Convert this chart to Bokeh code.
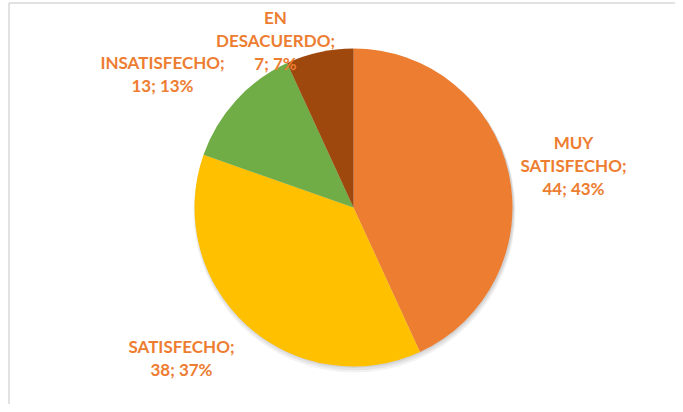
import math
from bokeh.plotting import figure
from bokeh.models import ColumnDataSource
from bokeh.core.properties import value
from bokeh.embed import file_html
from bokeh.resources import INLINE

categories = ["MUY SATISFECHO", "SATISFECHO", "INSATISFECHO", "EN DESACUERDO"]
counts = [44, 38, 13, 7]
percent_labels = ["43%", "37%", "13%", "7%"]
colors = ["#ED7D31", "#FFC000", "#70AD47", "#9E480E"]

W, H = 675, 404
p = figure(width=W, height=H, x_range=(0, W), y_range=(0, H),
           output_backend="svg", toolbar_location=None, min_border=0)
p.axis.visible = False
p.grid.visible = False
p.outline_line_color = None
p.background_fill_color = "white"

cx, cy, r = 353, H - 207, 159

# soft shadow
for off, a in [(4, 0.05), (2.5, 0.06), (1, 0.07)]:
    p.circle(x=cx + 1, y=cy - off, radius=r + off * 0.5, fill_color="black",
             fill_alpha=a, line_color=None)

total = sum(counts)
starts, ends = [], []
cum = 0
for c in counts:
    starts.append(math.pi / 2 - 2 * math.pi * cum / total)
    cum += c
    ends.append(math.pi / 2 - 2 * math.pi * cum / total)

src = ColumnDataSource(dict(start=starts, end=ends, color=colors))
p.wedge(x=cx, y=cy, radius=r, start_angle="start", end_angle="end",
        direction="clock", fill_color="color", line_color=None, source=src)

# labels (screen positions -> data coords)
label_pos = [(573, [142, 165, 188]), (181, [346, 369]),
             (162, [62, 85]), (275, [17, 40, 63])]
label_lines = [
    ["MUY", "SATISFECHO;", f"{counts[0]}; {percent_labels[0]}"],
    ["SATISFECHO;", f"{counts[1]}; {percent_labels[1]}"],
    ["INSATISFECHO;", f"{counts[2]}; {percent_labels[2]}"],
    ["EN", "DESACUERDO;", f"{counts[3]}; {percent_labels[3]}"],
]
tx, ty, tt = [], [], []
for (x, ys), lines in zip(label_pos, label_lines):
    for yy, t in zip(ys, lines):
        tx.append(x)
        ty.append(H - yy)
        tt.append(t)
p.text(x=tx, y=ty, text=tt, text_align="center", text_baseline="middle",
       text_font=value("Lato"), text_font_style="bold", text_font_size="17px",
       text_color="#ED7D31")

# chart border (left and top)
p.line(x=[8.5, 8.5], y=[0, H - 2.5], line_color="#D9D9D9", line_width=1.5)
p.line(x=[8.5, W], y=[H - 2.5, H - 2.5], line_color="#D9D9D9", line_width=1.5)

open("out.html", "w").write(file_html(p, INLINE))
